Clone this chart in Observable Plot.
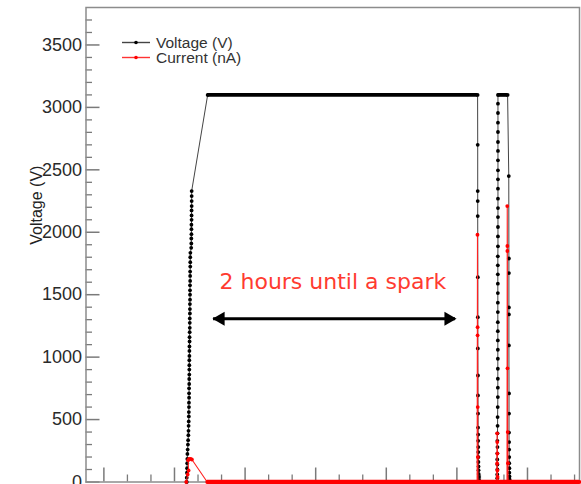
<!DOCTYPE html>
<html>
<head>
<meta charset="utf-8">
<script src="https://cdn.jsdelivr.net/npm/d3@7"></script>
<script src="https://cdn.jsdelivr.net/npm/@observablehq/plot@0.6"></script>
<style>
  body { margin: 0; background: #fff; }
  #wrap { position: relative; width: 581px; height: 484px; overflow: hidden; }
  #legend { position: absolute; left: 0; top: 0; pointer-events: none; }
</style>
</head>
<body>
<div id="wrap"></div>
<script>
// ---- tick values (time in minutes, voltage in V) ----
const yMajor = [0, 500, 1000, 1500, 2000, 2500, 3000, 3500];
const yMinor = [100, 200, 300, 400, 600, 700, 800, 900, 1100, 1200, 1300, 1400, 1600, 1700, 1800, 1900,
                2100, 2200, 2300, 2400, 2600, 2700, 2800, 2900, 3100, 3200, 3300, 3400, 3600, 3700];
const xMajor = [0, 30, 60, 90, 120, 150, 180];
const xMinor = [10, 20, 40, 50, 70, 80, 100, 110, 130, 140, 160, 170, 190, 200];

// ---- voltage readings [time (min), voltage (V)] ----
const voltageReadings = [
  [35.2, 0], [35.2, 35], [35.3, 75], [35.35, 110], [35.4, 150], [35.45, 185], [35.5, 225], [35.6, 260],
  [35.7, 300], [35.8, 335], [35.9, 375], [35.95, 410], [36.0, 450], [36.05, 485], [36.1, 525], [36.1, 560],
  [36.15, 600], [36.15, 635], [36.2, 675], [36.2, 710], [36.2, 750], [36.25, 785], [36.25, 825], [36.3, 860],
  [36.3, 900], [36.3, 935], [36.3, 975], [36.35, 1010], [36.35, 1050], [36.35, 1085], [36.4, 1125], [36.4, 1160],
  [36.45, 1200], [36.5, 1235], [36.5, 1275], [36.5, 1310], [36.55, 1350], [36.55, 1385], [36.55, 1425], [36.6, 1460],
  [36.6, 1500], [36.6, 1535], [36.6, 1575], [36.65, 1610], [36.65, 1650], [36.65, 1685], [36.7, 1725], [36.7, 1760],
  [36.7, 1800], [36.75, 1835], [37.1, 1875], [37.15, 1910], [37.15, 1950], [37.2, 1985], [37.2, 2025], [37.2, 2060],
  [37.25, 2100], [37.25, 2135], [37.25, 2175], [37.3, 2210], [37.3, 2250], [37.3, 2290], [37.3, 2330],
  [44.1, 3100], [158.8, 3100],
  [158.85, 2700], [158.85, 2330], [158.85, 2250], [158.85, 2130], [158.9, 1640], [158.9, 1320], [158.9, 1070],
  [158.95, 853], [158.95, 693], [159.0, 548], [159.0, 436], [159.05, 380], [159.05, 330], [159.1, 280],
  [159.1, 240], [159.15, 200], [159.15, 160], [159.2, 125], [159.2, 95], [159.25, 65], [159.3, 40], [159.35, 15], [159.4, 0],
  [166.9, 0], [167.15, 30], [167.15, 60], [167.2, 100], [167.2, 140], [167.15, 180], [167.2, 230], [167.25, 280],
  [167.2, 330], [167.25, 390], [167.3, 450], [167.3, 520], [167.35, 600], [167.4, 680], [167.4, 755], [167.4, 827],
  [167.4, 907], [167.4, 987], [167.4, 1059], [167.4, 1134], [167.4, 1208], [167.4, 1280], [167.4, 1361], [167.4, 1436],
  [167.4, 1513], [167.4, 1588], [167.4, 1663], [167.4, 1735], [167.4, 1807], [167.45, 1887], [167.45, 1967], [167.45, 2042],
  [167.45, 2122], [167.45, 2194], [167.45, 2269], [167.45, 2349], [167.45, 2424], [167.45, 2496], [167.45, 2576], [167.45, 2651],
  [167.45, 2723], [167.45, 2803], [167.45, 2878], [167.45, 2955], [167.45, 3030], [167.45, 3100],
  [171.55, 3100],
  [172.05, 2450], [172.1, 1790], [172.1, 1673], [172.1, 1398], [172.1, 1342], [172.1, 1094], [172.15, 709], [172.15, 548],
  [172.15, 396], [172.2, 320], [172.2, 260], [172.25, 200], [172.25, 150], [172.3, 110], [172.3, 75], [172.35, 45],
  [172.4, 20], [172.45, 0]
];

// ---- current readings [time (min), current (nA)] ----
const currentReadings = [
  [35.0, 0], [35.6, 60], [36.0, 92], [35.8, 175], [36.2, 185], [36.8, 185], [37.4, 180], [43.9, 0],
  [158.6, 0], [158.75, 1980], [158.8, 1240], [158.8, 1175], [158.85, 600], [158.9, 200], [159.0, 0],
  [166.9, 0], [167.1, 390], [167.15, 320], [167.2, 228], [167.1, 148], [167.2, 92], [167.3, 40], [167.4, 0],
  [171.3, 0], [171.4, 2210], [171.45, 1890], [171.45, 1850], [171.5, 910], [171.6, 400], [171.7, 150], [171.8, 0],
  [202.1, 0]
];

// stretches of dense, constant readings (drawn as a solid band of points)
const voltageHeld = [{from: 44.1, to: 158.8, value: 3100}, {from: 167.45, to: 171.55, value: 3100}];
const currentHeld = [{from: 43.9, to: 202.1, value: 0}];

// ---- annotation ----
const annotationText = ["2 hours until a spark"];
const annotationAt = {t: 97.3, v: 1600};
const spanArrow = [{from: 46.6, to: 149.4, v: 1308}];

const legendItems = [{label: "Voltage (V)", color: "#000", line: "#444"}, {label: "Current (nA)", color: "#f00", line: "#f33"}];

// ---- build ----
const voltage = voltageReadings.map(([t, v]) => ({t, v}));
const current = currentReadings.map(([t, v]) => ({t, v}));

const W = 581, H = 484, mL = 85.5, mR = 2, mT = 7, mB = 2.5;
const innerW = W - mL - mR, innerH = H - mT - mB;
const tickColor = "#7a7a7a";

const chart = Plot.plot({
  width: W, height: H,
  marginLeft: mL, marginRight: mR, marginTop: mT, marginBottom: mB,
  x: {domain: [-7.6, 202.1], axis: null},
  y: {domain: [0, 3800], axis: null},
  style: {fontFamily: "'Liberation Sans', Arial, sans-serif", background: "#fff"},
  marks: [
    Plot.tickY(yMinor, {y: d => d, stroke: tickColor, strokeWidth: 1.3, insetRight: innerW - 6.5}),
    Plot.tickY(yMajor, {y: d => d, stroke: tickColor, strokeWidth: 1.5, insetRight: innerW - 14}),
    Plot.tickX(xMinor, {x: d => d, stroke: tickColor, strokeWidth: 1.3, insetTop: innerH - 7}),
    Plot.tickX(xMajor, {x: d => d, stroke: tickColor, strokeWidth: 1.5, insetTop: innerH - 14}),
    Plot.frame({stroke: "#8c8c8c", strokeWidth: 1.5}),
    Plot.axisY({ticks: yMajor, tickSize: 0, tickPadding: 4, fontSize: 18, fill: "#2a2a2a",
                tickFormat: d => String(d), label: null}),
    Plot.text(["Voltage (V)"], {frameAnchor: "left", rotate: -90, dx: -49, fontSize: 16, fill: "#222"}),

    // voltage
    Plot.line(voltage, {x: "t", y: "v", stroke: "#444", strokeWidth: 1}),
    Plot.ruleY(voltageHeld, {x1: "from", x2: "to", y: "value", stroke: "#000", strokeWidth: 3.8}),
    Plot.dot(voltage, {x: "t", y: "v", r: 1.9, fill: "#000"}),

    // current
    Plot.line(current, {x: "t", y: "v", stroke: "#f22", strokeWidth: 1.1}),
    Plot.ruleY(currentHeld, {x1: "from", x2: "to", y: "value", stroke: "#f00", strokeWidth: 4.5}),
    Plot.dot(current, {x: "t", y: "v", r: 1.9, fill: "#f00"}),

    // annotation
    Plot.text(annotationText, {x: annotationAt.t, y: annotationAt.v, fontSize: 22, fill: "#ff3b30",
              fontFamily: "'DejaVu Sans', Verdana, sans-serif", textAnchor: "middle", lineAnchor: "middle"}),
    Plot.ruleY(spanArrow, {x1: "from", x2: "to", y: "v", stroke: "#000", strokeWidth: 3}),
    Plot.dot(spanArrow, {x: "to", y: "v", symbol: "triangle", rotate: 90, r: 5.2, fill: "#000", stroke: null, dx: -7}),
    Plot.dot(spanArrow, {x: "from", y: "v", symbol: "triangle", rotate: -90, r: 5.2, fill: "#000", stroke: null, dx: 7})
  ]
});

const wrap = document.getElementById("wrap");
wrap.appendChild(chart);

// legend overlay (inside the frame, top-left)
const leg = d3.select(wrap).append("svg").attr("id", "legend").attr("width", W).attr("height", H);
legendItems.forEach((it, i) => {
  const y = 42.5 + i * 15;
  const g = leg.append("g");
  g.append("line").attr("x1", 122).attr("x2", 150).attr("y1", y).attr("y2", y)
    .attr("stroke", it.line).attr("stroke-width", 1.4);
  g.append("circle").attr("cx", 136).attr("cy", y).attr("r", 1.8).attr("fill", it.color);
  g.append("text").attr("x", 156).attr("y", y).attr("dy", "0.35em")
    .attr("font-family", "'Liberation Sans', Arial, sans-serif").attr("font-size", 15.5)
    .attr("fill", "#333").text(it.label);
});
</script>
</body>
</html>
